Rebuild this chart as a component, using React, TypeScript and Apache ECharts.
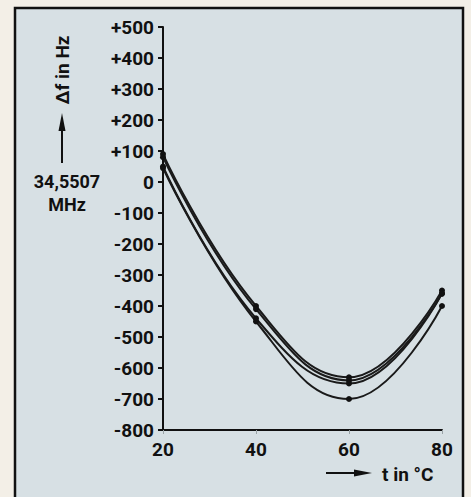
import React, { useEffect, useRef } from "react";
import * as echarts from "echarts";

const temperatures = [20, 40, 60, 80];
const curveA = [90, -400, -630, -350];
const curveB = [80, -410, -640, -360];
const curveC = [50, -440, -650, -360];
const curveD = [45, -450, -700, -400];
const curves = [curveA, curveB, curveC, curveD];

const yTickMin = -800;
const yTickMax = 500;
const yTickStep = 100;
const xTickMin = 20;
const xTickMax = 80;
const xTickStep = 20;

const yAxisTitle = "Δf in Hz";
const refFreqLines = ["34,5507", "MHz"];
const xAxisTitle = "t in °C";

const FONT = "Roboto";
const FS = 19;
const FW = "bold";

export default function App() {
  const ref = useRef<HTMLDivElement>(null);
  useEffect(() => {
    const chart = echarts.init(ref.current!, null, { renderer: "svg" });
    const textStyle = (extra: any) => ({
      fill: "#111",
      fontFamily: FONT,
      fontWeight: FW,
      fontSize: FS,
      ...extra,
    });
    chart.setOption({
      animation: false,
      backgroundColor: "#f3efe7",
      textStyle: { fontFamily: FONT },
      grid: { left: 163, right: 29, top: 27, bottom: 67, containLabel: false },
      xAxis: {
        type: "value",
        min: xTickMin,
        max: xTickMax,
        interval: xTickStep,
        splitLine: { show: false },
        axisLine: { show: true, onZero: false, lineStyle: { color: "#111", width: 2 } },
        axisTick: { show: true, length: 4, lineStyle: { color: "#9aa3a6", width: 1 } },
        axisLabel: { color: "#111", fontSize: FS, fontWeight: FW, fontFamily: FONT, margin: 10 },
      },
      yAxis: {
        type: "value",
        min: yTickMin,
        max: yTickMax,
        interval: yTickStep,
        splitLine: { show: false },
        axisLine: { show: true, onZero: false, lineStyle: { color: "#111", width: 2 } },
        axisTick: { show: true, length: 5, lineStyle: { color: "#111", width: 2 } },
        axisLabel: {
          color: "#111",
          fontSize: FS,
          fontWeight: FW,
          fontFamily: FONT,
          margin: 9,
          formatter: (v: number) => (v > 0 ? "+" + v : String(v)),
        },
      },
      series: curves.map((c) => ({
        type: "line",
        data: temperatures.map((t, i) => [t, c[i]]),
        smooth: 0.45,
        symbol: "circle",
        symbolSize: 6,
        itemStyle: { color: "#111" },
        lineStyle: { color: "#1a1a1a", width: 2 },
      })),
      graphic: [
        {
          type: "rect",
          z: -10,
          silent: true,
          shape: { x: 15, y: 8, width: 448, height: 500 },
          style: { fill: "#d7e0e4", stroke: "#111", lineWidth: 2.5 },
        },
        {
          type: "text",
          x: 62,
          y: 70,
          rotation: Math.PI / 2,
          style: textStyle({ text: yAxisTitle, align: "center", verticalAlign: "middle" }),
        },
        {
          type: "line",
          shape: { x1: 62, y1: 163, x2: 62, y2: 126 },
          style: { stroke: "#111", lineWidth: 2 },
        },
        {
          type: "polygon",
          shape: { points: [[62, 113], [58.5, 131], [65.5, 131]] },
          style: { fill: "#111" },
        },
        {
          type: "text",
          x: 67,
          y: 181,
          style: textStyle({ text: refFreqLines[0], align: "center", verticalAlign: "middle", fontSize: 18 }),
        },
        {
          type: "text",
          x: 67,
          y: 204,
          style: textStyle({ text: refFreqLines[1], align: "center", verticalAlign: "middle", fontSize: 18 }),
        },
        {
          type: "line",
          shape: { x1: 326, y1: 473, x2: 358, y2: 473 },
          style: { stroke: "#111", lineWidth: 2 },
        },
        {
          type: "polygon",
          shape: { points: [[372, 473], [354, 469.5], [354, 476.5]] },
          style: { fill: "#111" },
        },
        {
          type: "text",
          x: 382,
          y: 474,
          style: textStyle({ text: xAxisTitle, align: "left", verticalAlign: "middle" }),
        },
      ],
    });
    return () => chart.dispose();
  }, []);
  return (
    <div
      ref={ref}
      style={{ position: "fixed", left: 0, top: 0, width: 471, height: 497 }}
    />
  );
}
